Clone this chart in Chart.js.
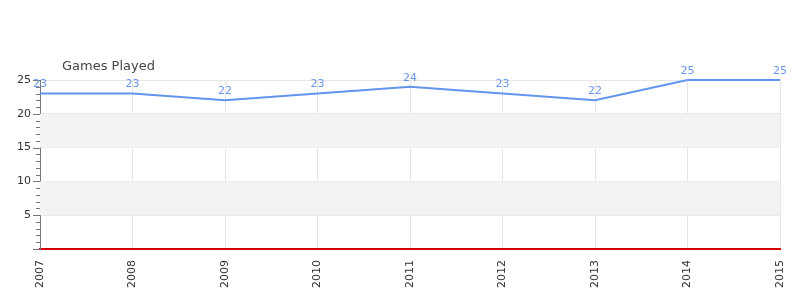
<!DOCTYPE html>
<html>
<head>
<meta charset="utf-8">
<script src="https://cdn.jsdelivr.net/npm/chart.js@4"></script>
<style>
  html, body { margin: 0; padding: 0; background: #fff; }
  #wrap { width: 800px; height: 300px; }
</style>
</head>
<body>
<div id="wrap"><canvas id="chart"></canvas></div>
<script>
const years = ['2007', '2008', '2009', '2010', '2011', '2012', '2013', '2014', '2015'];
const gamesPlayed = [23, 23, 22, 23, 24, 23, 22, 25, 25];
const seriesName = 'Games Played';
const bands = [[5, 10], [15, 20]];

Chart.defaults.font.family = '"DejaVu Sans", sans-serif';
Chart.defaults.font.size = 11;
Chart.defaults.color = '#333';

// alternating bands, minor ticks, title and value labels
const extras = {
    id: 'extras',
    beforeDatasetsDraw(chart) {
        const { ctx, chartArea } = chart;
        const y = chart.scales.y;
        ctx.save();
        ctx.fillStyle = '#f3f3f3';
        bands.forEach(([a, b]) => {
            const top = y.getPixelForValue(b);
            const bottom = y.getPixelForValue(a);
            ctx.fillRect(chartArea.left, top, chartArea.right - chartArea.left, bottom - top);
        });
        ctx.restore();
    },
    afterDraw(chart) {
        const { ctx, chartArea } = chart;
        const y = chart.scales.y;
        ctx.save();
        ctx.strokeStyle = '#777';
        ctx.lineWidth = 1;
        for (let v = y.min; v <= y.max; v++) {
            const py = Math.round(y.getPixelForValue(v)) + 0.5;
            const len = v % 5 === 0 ? 7 : 4;
            ctx.beginPath();
            ctx.moveTo(chartArea.left - len, py);
            ctx.lineTo(chartArea.left, py);
            ctx.stroke();
        }

        ctx.fillStyle = '#444';
        ctx.font = '13px "DejaVu Sans", sans-serif';
        ctx.textAlign = 'left';
        ctx.textBaseline = 'middle';
        ctx.fillText(seriesName, chartArea.left + 22, chartArea.top - 13);

        const meta = chart.getDatasetMeta(0);
        ctx.fillStyle = '#6b97ef';
        ctx.font = '11px "DejaVu Sans", sans-serif';
        ctx.textAlign = 'center';
        meta.data.forEach((pt, i) => {
            ctx.fillText(String(gamesPlayed[i]), pt.x, pt.y - 9);
        });
        ctx.restore();
    }
};

new Chart(document.getElementById('chart'), {
    type: 'line',
    data: {
        labels: years,
        datasets: [{
            label: seriesName,
            data: gamesPlayed,
            borderColor: '#6495ed',
            borderWidth: 2,
            tension: 0,
            pointRadius: 0,
            fill: false,
            clip: false
        }]
    },
    options: {
        responsive: true,
        maintainAspectRatio: false,
        animation: false,
        layout: { padding: { top: 80, right: 20, bottom: 0, left: 0 } },
        plugins: {
            legend: { display: false },
            tooltip: { enabled: false }
        },
        scales: {
            x: {
                offset: false,
                afterFit: s => { s.height = 51; s.paddingLeft = 0; s.paddingRight = 0; },
                grid: { color: '#e6e6e6', drawTicks: false },
                border: { color: '#d40000', width: 2 },
                ticks: { minRotation: 90, maxRotation: 90, padding: 11, color: '#333', autoSkip: false }
            },
            y: {
                min: 0,
                max: 25,
                afterFit: s => { s.width = 40; },
                grid: {
                    drawTicks: false,
                    color: c => (c.tick && c.tick.value % 5 === 0 && c.tick.value > 0) ? '#e6e6e6' : 'transparent'
                },
                border: { color: '#777', width: 1 },
                ticks: {
                    stepSize: 1,
                    autoSkip: false,
                    padding: 9,
                    color: '#333',
                    callback: v => (v % 5 === 0 && v > 0) ? v : ''
                }
            }
        }
    },
    plugins: [extras]
});
</script>
</body>
</html>
